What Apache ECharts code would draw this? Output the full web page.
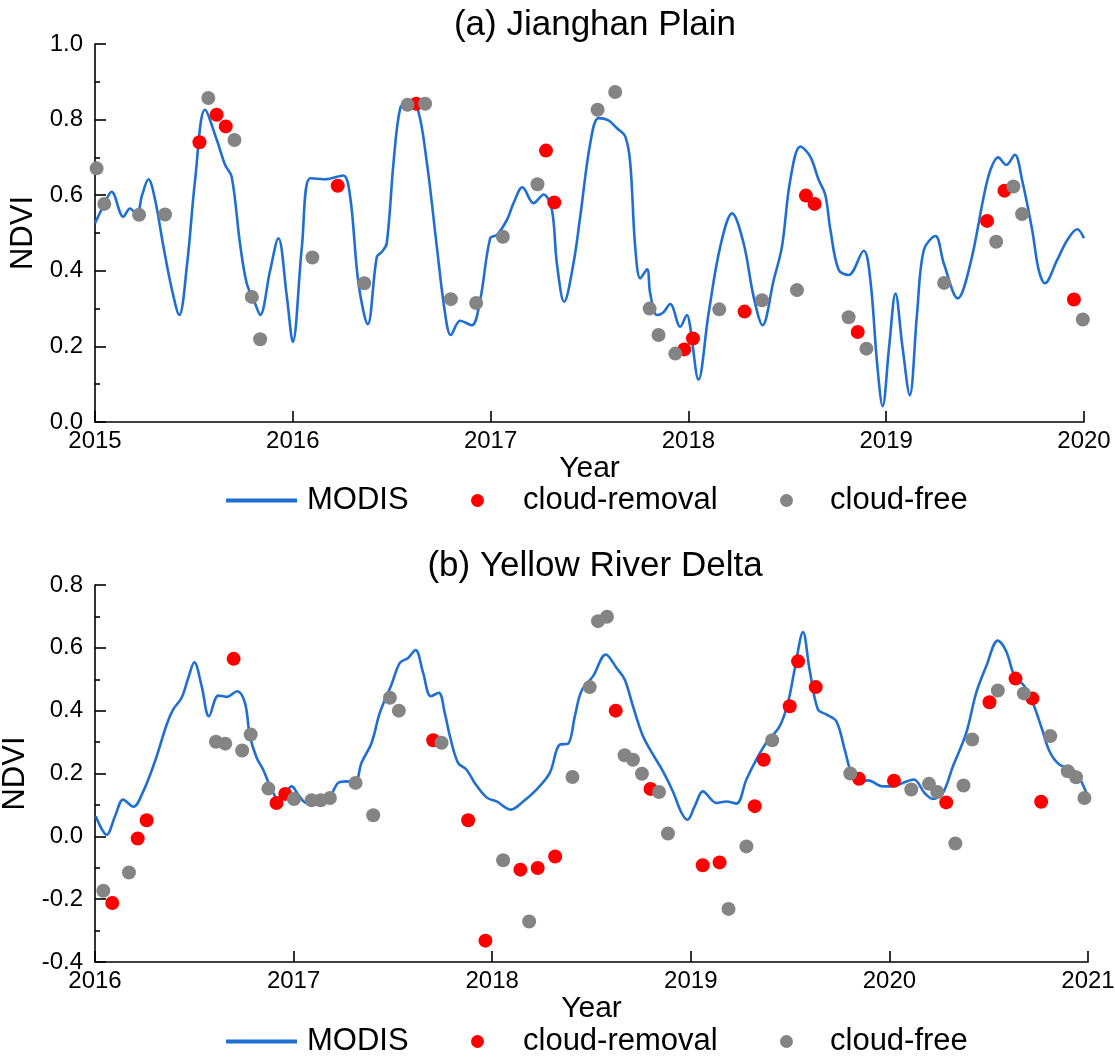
<!DOCTYPE html>
<html>
<head>
<meta charset="utf-8">
<script src="https://cdn.jsdelivr.net/npm/echarts@6/dist/echarts.min.js"></script>
<style>
  html, body { margin: 0; padding: 0; background: #fff; }
  #chart { width: 1115px; height: 1059px; }
</style>
</head>
<body>
<div id="chart"></div>
<script>
// ---- (a) Jianghan Plain : [decimal year, NDVI] ----
const modisA = [
  [2015.000,0.526],[2015.046,0.575],[2015.084,0.609],[2015.143,0.543],[2015.177,0.565],
  [2015.211,0.548],[2015.238,0.600],[2015.270,0.642],[2015.303,0.590],[2015.346,0.464],
  [2015.389,0.350],[2015.426,0.283],[2015.466,0.420],[2015.506,0.640],[2015.556,0.826],
  [2015.616,0.746],[2015.658,0.680],[2015.691,0.649],[2015.733,0.473],[2015.767,0.367],
  [2015.809,0.314],[2015.835,0.283],[2015.885,0.400],[2015.927,0.486],[2015.970,0.331],
  [2016.000,0.212],[2016.046,0.464],[2016.088,0.645],[2016.163,0.642],[2016.254,0.652],
  [2016.290,0.596],[2016.332,0.367],[2016.379,0.259],[2016.425,0.437],[2016.450,0.450],
  [2016.475,0.473],[2016.509,0.685],[2016.543,0.830],[2016.577,0.844],[2016.627,0.835],
  [2016.678,0.685],[2016.728,0.464],[2016.770,0.287],[2016.799,0.230],[2016.846,0.268],
  [2016.905,0.256],[2016.947,0.322],[2016.998,0.486],[2017.032,0.495],[2017.082,0.534],
  [2017.116,0.579],[2017.161,0.621],[2017.217,0.579],[2017.268,0.602],[2017.310,0.561],
  [2017.335,0.420],[2017.372,0.318],[2017.419,0.420],[2017.453,0.543],[2017.504,0.738],
  [2017.546,0.804],[2017.596,0.798],[2017.639,0.777],[2017.681,0.755],[2017.706,0.685],
  [2017.731,0.464],[2017.757,0.380],[2017.791,0.404],[2017.807,0.340],[2017.841,0.283],
  [2017.873,0.290],[2017.908,0.312],[2017.959,0.252],[2017.993,0.283],[2018.009,0.252],
  [2018.051,0.112],[2018.102,0.287],[2018.161,0.464],[2018.221,0.552],[2018.279,0.473],
  [2018.330,0.331],[2018.375,0.256],[2018.431,0.375],[2018.473,0.464],[2018.515,0.640],
  [2018.566,0.729],[2018.616,0.702],[2018.659,0.640],[2018.692,0.601],[2018.718,0.508],
  [2018.760,0.402],[2018.810,0.389],[2018.886,0.453],[2018.920,0.375],[2018.954,0.155],
  [2018.982,0.042],[2019.015,0.200],[2019.047,0.340],[2019.082,0.200],[2019.119,0.071],
  [2019.156,0.287],[2019.190,0.455],[2019.249,0.492],[2019.291,0.420],[2019.362,0.327],
  [2019.426,0.420],[2019.493,0.596],[2019.527,0.667],[2019.566,0.700],[2019.607,0.680],
  [2019.650,0.707],[2019.687,0.640],[2019.738,0.508],[2019.771,0.402],[2019.802,0.367],
  [2019.864,0.428],[2019.915,0.481],[2019.966,0.510],[2020.000,0.486]
];
const cloudRemovalA = [
  [2015.528,0.740],[2015.615,0.813],[2015.661,0.782],[2016.227,0.625],[2016.624,0.842],
  [2017.280,0.718],[2017.322,0.581],[2017.979,0.192],[2018.023,0.221],[2018.284,0.292],
  [2018.594,0.599],[2018.638,0.577],[2018.856,0.238],[2019.510,0.532],[2019.598,0.612],
  [2019.949,0.324]
];
const cloudFreeA = [
  [2015.008,0.671],[2015.047,0.577],[2015.223,0.548],[2015.354,0.549],[2015.573,0.857],
  [2015.705,0.746],[2015.793,0.331],[2015.835,0.219],[2016.099,0.435],[2016.361,0.367],
  [2016.580,0.839],[2016.669,0.842],[2016.799,0.325],[2016.927,0.315],[2017.062,0.490],
  [2017.237,0.629],[2017.541,0.826],[2017.630,0.873],[2017.804,0.300],[2017.849,0.230],
  [2017.934,0.181],[2018.156,0.298],[2018.372,0.322],[2018.549,0.349],[2018.810,0.277],
  [2018.900,0.194],[2019.293,0.368],[2019.556,0.477],[2019.643,0.623],[2019.687,0.550],
  [2019.994,0.271]
];

// ---- (b) Yellow River Delta : [decimal year, NDVI] ----
const modisB = [
  [2016.004,0.064],[2016.059,0.005],[2016.101,0.064],[2016.142,0.117],[2016.193,0.094],
  [2016.243,0.143],[2016.302,0.239],[2016.361,0.356],[2016.394,0.404],[2016.436,0.441],
  [2016.470,0.505],[2016.500,0.554],[2016.537,0.478],[2016.574,0.382],[2016.621,0.448],
  [2016.663,0.444],[2016.716,0.462],[2016.755,0.425],[2016.780,0.319],[2016.814,0.250],
  [2016.847,0.212],[2016.889,0.149],[2016.931,0.111],[2016.965,0.143],[2016.990,0.159],
  [2017.023,0.133],[2017.065,0.106],[2017.132,0.117],[2017.183,0.127],[2017.224,0.170],
  [2017.267,0.175],[2017.309,0.170],[2017.342,0.234],[2017.393,0.298],[2017.434,0.393],
  [2017.493,0.483],[2017.535,0.552],[2017.577,0.568],[2017.614,0.593],[2017.652,0.521],
  [2017.691,0.446],[2017.731,0.457],[2017.761,0.393],[2017.787,0.319],[2017.828,0.234],
  [2017.871,0.212],[2017.912,0.170],[2017.971,0.124],[2018.022,0.111],[2018.094,0.085],
  [2018.156,0.111],[2018.223,0.149],[2018.290,0.202],[2018.340,0.292],[2018.382,0.295],
  [2018.416,0.382],[2018.449,0.462],[2018.508,0.510],[2018.572,0.579],[2018.626,0.536],
  [2018.667,0.499],[2018.709,0.414],[2018.759,0.319],[2018.810,0.260],[2018.860,0.207],
  [2018.910,0.143],[2018.953,0.075],[2018.983,0.053],[2019.020,0.096],[2019.061,0.143],
  [2019.129,0.106],[2019.179,0.111],[2019.230,0.104],[2019.280,0.181],[2019.330,0.244],
  [2019.380,0.298],[2019.447,0.350],[2019.489,0.425],[2019.523,0.531],[2019.565,0.650],
  [2019.598,0.531],[2019.640,0.404],[2019.682,0.388],[2019.733,0.366],[2019.775,0.276],
  [2019.808,0.202],[2019.850,0.170],[2019.892,0.178],[2019.967,0.159],[2020.018,0.159],
  [2020.068,0.170],[2020.123,0.181],[2020.177,0.138],[2020.219,0.119],[2020.269,0.138],
  [2020.320,0.223],[2020.387,0.329],[2020.437,0.457],[2020.488,0.542],[2020.546,0.623],
  [2020.588,0.589],[2020.630,0.510],[2020.680,0.478],[2020.722,0.425],[2020.764,0.350],
  [2020.806,0.271],[2020.857,0.228],[2020.924,0.212],[2020.957,0.186],[2020.999,0.127]
];
const cloudRemovalB = [
  [2016.087,-0.212],[2016.215,-0.007],[2016.260,0.051],[2016.698,0.565],[2016.914,0.106],
  [2016.958,0.135],[2017.703,0.306],[2017.879,0.051],[2017.966,-0.332],[2018.142,-0.106],
  [2018.229,-0.101],[2018.317,-0.064],[2018.622,0.400],[2018.797,0.151],[2019.060,-0.092],
  [2019.145,-0.083],[2019.322,0.096],[2019.367,0.244],[2019.498,0.414],[2019.540,0.557],
  [2019.629,0.475],[2019.847,0.183],[2020.023,0.177],[2020.286,0.108],[2020.504,0.427],
  [2020.635,0.502],[2020.720,0.439],[2020.764,0.110]
];
const cloudFreeB = [
  [2016.042,-0.173],[2016.171,-0.115],[2016.609,0.301],[2016.656,0.295],[2016.741,0.273],
  [2016.784,0.324],[2016.873,0.152],[2017.002,0.119],[2017.091,0.115],[2017.136,0.115],
  [2017.183,0.122],[2017.312,0.170],[2017.401,0.067],[2017.485,0.441],[2017.530,0.400],
  [2017.745,0.298],[2018.055,-0.076],[2018.186,-0.271],[2018.404,0.189],[2018.491,0.475],
  [2018.533,0.685],[2018.578,0.699],[2018.667,0.258],[2018.709,0.244],[2018.754,0.199],
  [2018.840,0.141],[2018.885,0.009],[2019.190,-0.231],[2019.280,-0.032],[2019.410,0.306],
  [2019.803,0.200],[2020.110,0.149],[2020.199,0.167],[2020.241,0.141],[2020.332,-0.023],
  [2020.373,0.162],[2020.417,0.308],[2020.546,0.464],[2020.677,0.455],[2020.810,0.319],
  [2020.898,0.207],[2020.940,0.188],[2020.982,0.122]
];

const panelTitles = ['(a) Jianghan Plain', '(b) Yellow River Delta'];
const yearRanges = [[2015, 2020], [2016, 2021]];
const ndviRanges = [[0, 1], [-0.4, 0.8]];
const seriesNames = ['MODIS', 'cloud-removal', 'cloud-free'];

const FONT = '"Liberation Sans", Arial, Helvetica, sans-serif';
const BLUE = '#1f6fd2', RED = '#ff0000', GREY = '#848484';

const grids = [
  { left: 95, top: 44, width: 989, height: 378, containLabel: false, outerBoundsMode: 'none' },
  { left: 95, top: 585, width: 993, height: 377, containLabel: false, outerBoundsMode: 'none' }
];

function xAxisFor(i) {
  return {
    type: 'value', gridIndex: i,
    min: yearRanges[i][0], max: yearRanges[i][1], interval: 1,
    name: 'Year', nameLocation: 'middle', nameGap: 22,
    nameTextStyle: { fontFamily: FONT, fontSize: 30, color: '#000' },
    axisLine: { onZero: false, lineStyle: { color: '#000', width: 1.6 } },
    axisTick: { inside: true, length: 11, lineStyle: { color: '#000', width: 1.6 } },
    axisLabel: { margin: 7, fontFamily: FONT, fontSize: 24, color: '#000',
                 formatter: v => String(Math.round(v)) },
    splitLine: { show: false }
  };
}
function yAxisFor(i) {
  return {
    type: 'value', gridIndex: i,
    min: ndviRanges[i][0], max: ndviRanges[i][1], interval: 0.2,
    name: 'NDVI', nameLocation: 'middle', nameGap: 47,
    nameTextStyle: { fontFamily: FONT, fontSize: 31, color: '#000' },
    axisLine: { show: true, onZero: false, lineStyle: { color: '#000', width: 1.6 } },
    axisTick: { show: true, inside: true, length: 11, lineStyle: { color: '#000', width: 1.6 } },
    minorTick: { show: true, splitNumber: 2, length: 5, lineStyle: { color: '#000', width: 1.6 } },
    axisLabel: { margin: 12, fontFamily: FONT, fontSize: 24, color: '#000',
                 formatter: v => v.toFixed(1) },
    splitLine: { show: false }
  };
}

function panelSeries(i, modis, removal, free) {
  return [
    { name: seriesNames[0], type: 'line', xAxisIndex: i, yAxisIndex: i, data: modis,
      smooth: 0.35, showSymbol: false, symbol: 'none',
      lineStyle: { color: BLUE, width: 2.6 }, itemStyle: { color: BLUE }, z: 2 },
    { name: seriesNames[1], type: 'scatter', xAxisIndex: i, yAxisIndex: i, data: removal,
      symbolSize: 14, clip: false, itemStyle: { color: RED, opacity: 1 }, z: 3 },
    { name: seriesNames[2], type: 'scatter', xAxisIndex: i, yAxisIndex: i, data: free,
      symbolSize: 14, clip: false, itemStyle: { color: GREY, opacity: 1 }, z: 4 }
  ];
}

// one legend per entry so each icon/label spacing can be set on its own
function legendsFor(top) {
  const base = { top: top, orient: 'horizontal', selectedMode: false,
                 textStyle: { fontFamily: FONT, fontSize: 31, color: '#000' } };
  return [
    Object.assign({}, base, { data: [{ name: seriesNames[0], icon: 'rect' }], left: 221,
      itemWidth: 71, itemHeight: 4, itemStyle: { color: BLUE },
      textStyle: Object.assign({}, base.textStyle, { padding: [0, 0, 0, 5] }) }),
    Object.assign({}, base, { data: [{ name: seriesNames[1], icon: 'circle' }], left: 466,
      itemWidth: 13, itemHeight: 13,
      textStyle: Object.assign({}, base.textStyle, { padding: [0, 0, 0, 34] }) }),
    Object.assign({}, base, { data: [{ name: seriesNames[2], icon: 'circle' }], left: 775,
      itemWidth: 13, itemHeight: 13,
      textStyle: Object.assign({}, base.textStyle, { padding: [0, 0, 0, 32] }) })
  ];
}

const chart = echarts.init(document.getElementById('chart'), null, { renderer: 'canvas' });
chart.setOption({
  backgroundColor: '#fff',
  animation: false,
  title: [
    { text: panelTitles[0], left: 590, top: 3, textAlign: 'center',
      textStyle: { fontFamily: FONT, fontSize: 35, fontWeight: 'normal', color: '#000' } },
    { text: panelTitles[1], left: 590, top: 544, textAlign: 'center',
      textStyle: { fontFamily: FONT, fontSize: 35, fontWeight: 'normal', color: '#000' } }
  ],
  legend: legendsFor(480).concat(legendsFor(1021)),
  grid: grids,
  xAxis: [xAxisFor(0), xAxisFor(1)],
  yAxis: [yAxisFor(0), yAxisFor(1)],
  series: panelSeries(0, modisA, cloudRemovalA, cloudFreeA)
            .concat(panelSeries(1, modisB, cloudRemovalB, cloudFreeB))
});
</script>
</body>
</html>
